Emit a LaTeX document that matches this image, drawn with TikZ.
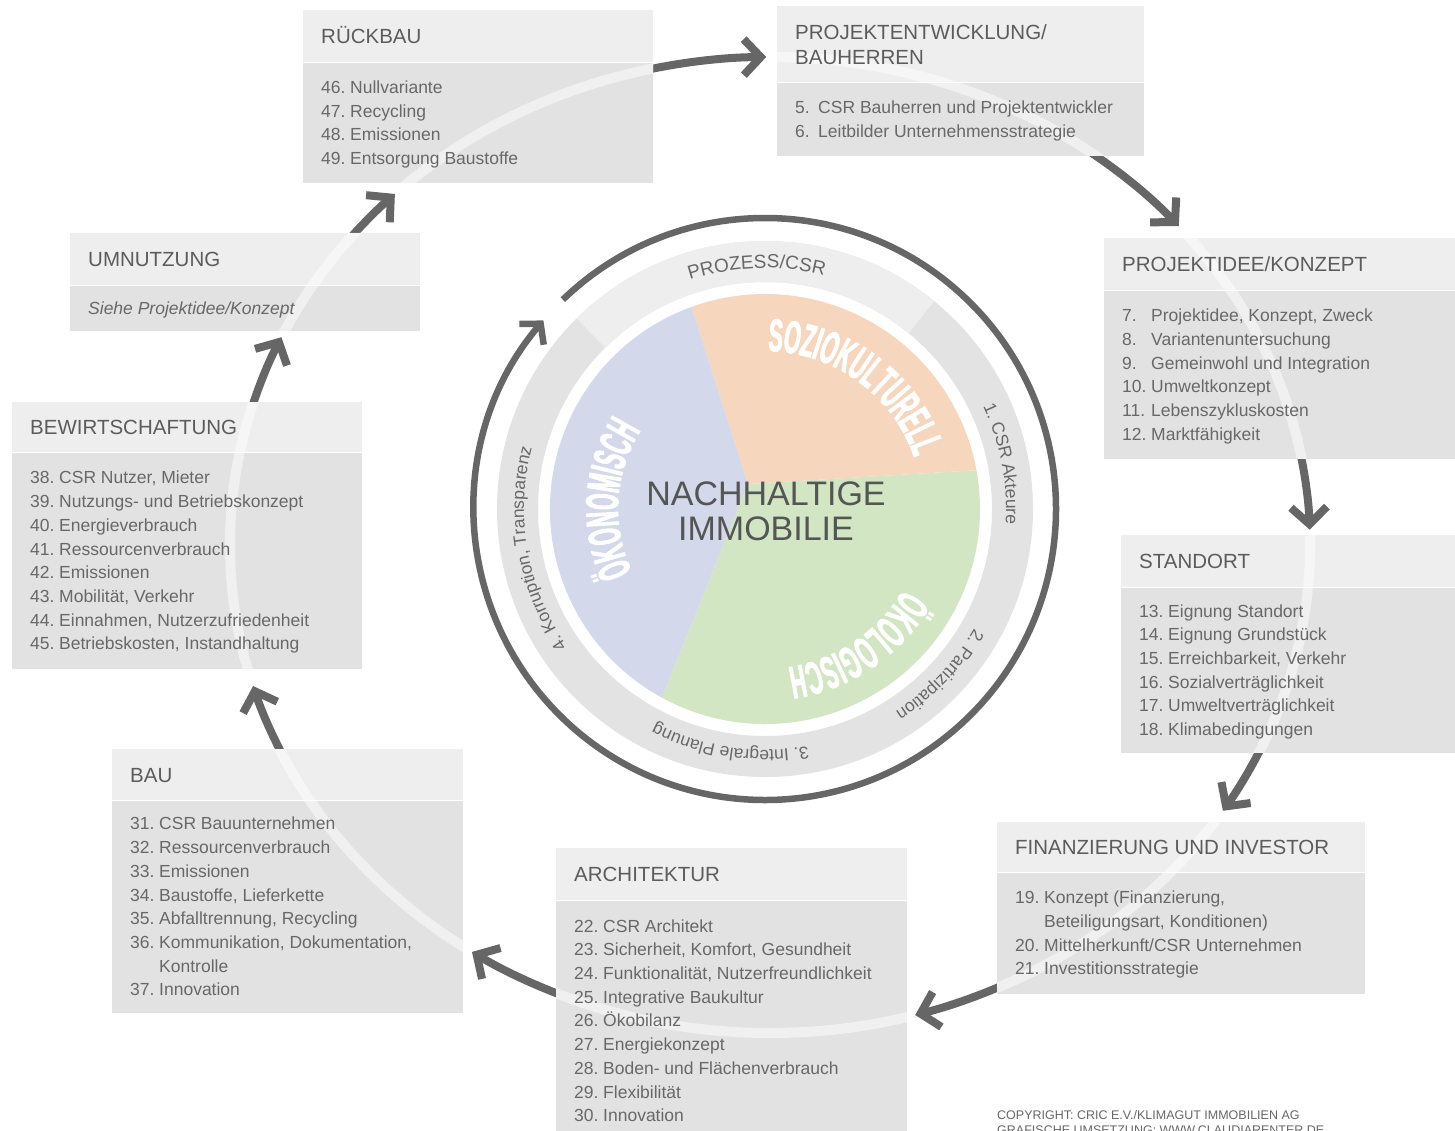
\documentclass[tikz,border=0pt]{standalone}
\usepackage{fontspec}
\setmainfont{Liberation Sans}
\newfontfamily\piefont{Liberation Sans Bold}[FakeStretch=0.46,FakeBold=2]
\usetikzlibrary{arrows.meta,calc,decorations.text}
\definecolor{hdrcol}{HTML}{EEEEEE}
\definecolor{bdycol}{HTML}{E2E2E2}
\definecolor{txtcol}{HTML}{686868}
\definecolor{headcol}{HTML}{5C5C5C}
\definecolor{arrcol}{HTML}{666666}
\definecolor{centcol}{HTML}{555555}
\definecolor{peach}{HTML}{F6D6BD}
\definecolor{lav}{HTML}{D3D8EA}
\definecolor{leaf}{HTML}{D2E6C3}
\definecolor{bandcol}{HTML}{E3E3E3}
\definecolor{bandtop}{HTML}{EEEEEE}
\newcommand\itm[3][29pt]{\makebox[#1][l]{#2}#3\rule[-5.4pt]{0pt}{23.4pt}}
\newcommand\hd[1]{#1\rule[-4.8pt]{0pt}{24.3pt}}
\newcommand\ctr[1]{#1\rule[-5.2pt]{0pt}{34.7pt}}
\newcommand\bandf{\fontsize{17.5}{20}\selectfont}
\newcommand\pief{\piefont\fontsize{46}{46}\selectfont}
\newcommand\mkbox[6]{%
  \node[hfill, minimum width=#4pt, minimum height=#5pt] (#1h) at (#2,-#3) {};
  \node[bfill, minimum width=#4pt, minimum height=#6pt] (#1b) at (#1h.south west) {};}
\tikzset{
  hfill/.style={rectangle, fill=hdrcol, inner sep=0pt, anchor=north west},
  bfill/.style={rectangle, fill=bdycol, inner sep=0pt, anchor=north west},
  htxt/.style={anchor=west, inner xsep=18pt, inner ysep=0pt, align=left, text=headcol, font=\fontsize{20.5}{25}\selectfont},
  btxt/.style={anchor=west, inner xsep=18pt, inner ysep=0pt, align=left, text=txtcol, font=\fontsize{17.5}{23.7}\selectfont},
  flow/.style={draw=arrcol, line width=8pt, -{Straight Barb[length=17pt,width=36pt]}},
  ringarrow/.style={draw=arrcol, line width=6.5pt, -{Straight Barb[length=14pt,width=32pt]}},
  lightring/.style={draw=white, draw opacity=0.5, line width=10pt},
  copytxt/.style={anchor=base west, inner sep=0pt, text=txtcol, font=\fontsize{12.5}{14}\selectfont}
}
\begin{document}
\begin{tikzpicture}[x=1pt,y=1pt]
\useasboundingbox (0,0) rectangle (1455,-1131);
\clip (0,0) rectangle (1455,-1131);
\fill[white] (0,0) rectangle (1455,-1131);

% ---------- big cycle arrows ----------
\coordinate (E) at (770,-545);
\draw[flow] ($(E)+(104:540 and 488)$) arc[start angle=104, end angle=90.4, x radius=540, y radius=488];
\draw[flow] ($(E)+(55:540 and 488)$) arc[start angle=55, end angle=40.8, x radius=540, y radius=488];
\draw[flow] ($(E)+(12:540 and 488)$) arc[start angle=12, end angle=1.8, x radius=540, y radius=488];
\draw[flow] ($(E)+(-23:540 and 488)$) arc[start angle=-23, end angle=-33, x radius=540, y radius=488];
\draw[flow] ($(E)+(-63:540 and 488)$) arc[start angle=-63, end angle=-74.4, x radius=540, y radius=488];
\draw[flow] ($(E)+(-111.5:540 and 488)$) arc[start angle=-111.5, end angle=-123.5, x radius=540, y radius=488];
\draw[flow] ($(E)+(-153.5:540 and 488)$) arc[start angle=-153.5, end angle=-163.2, x radius=540, y radius=488];
\draw[flow] ($(E)+(165:540 and 488)$) arc[start angle=165, end angle=154.8, x radius=540, y radius=488];
\draw[flow] ($(E)+(142:540 and 488)$) arc[start angle=142, end angle=134, x radius=540, y radius=488];

% ---------- central circle ----------
\coordinate (C) at (765,-509);
\coordinate (V) at (748,-484);
\fill[peach] (V) -- ($(C)+(10.4:215)$) arc[start angle=10.4, end angle=110, radius=215] -- cycle;
\fill[lav] (V) -- ($(C)+(110:215)$) arc[start angle=110, end angle=241.4, radius=215] -- cycle;
\fill[leaf] (V) -- ($(C)+(241.4:215)$) arc[start angle=241.4, end angle=370.4, radius=215] -- cycle;
\draw[bandcol, line width=41pt] (C) circle[radius=247.5];
\draw[bandtop, line width=41pt] ($(C)+(134.7:247.5)$) arc[start angle=134.7, end angle=50.8, radius=247.5];
\draw[ringarrow] ($(C)+(134:291)$) arc[start angle=134, end angle=-220.4, radius=291];

\path[decorate, decoration={text along path, text align=center, text color=txtcol, text={|\fontsize{19}{20}\selectfont|PROZESS/CSR}}]
  ($(C)+(137:241)$) arc[start angle=137, end angle=47, radius=241];
\path[decorate, decoration={text along path, text align=center, text color=txtcol, text={|\bandf|1. CSR Akteure}}]
  ($(C)+(55.8:241)$) arc[start angle=55.8, end angle=-34.2, radius=241];
\path[decorate, decoration={text along path, text align=center, text color=txtcol, text={|\bandf|2. Partizipation}}]
  ($(C)+(1.5:241)$) arc[start angle=1.5, end angle=-88.5, radius=241];
\path[decorate, decoration={text along path, text align=center, text color=txtcol, text={|\bandf|3. Integrale Planung}}]
  ($(C)+(-53.4:241)$) arc[start angle=-53.4, end angle=-143.4, radius=241];
\path[decorate, decoration={text along path, text align=center, text color=txtcol, text={|\bandf|4. Korruption, Transparenz}}]
  ($(C)+(235:241)$) arc[start angle=235, end angle=145, radius=241];

\path[decorate, decoration={text along path, text align=center, text color=white, text={|\pief|SOZIOKULTURELL}}]
  ($(C)+(99:158)$) arc[start angle=99, end angle=9, radius=158];
\path[decorate, decoration={text along path, text align=center, text color=white, text={|\pief|ÖKONOMISCH}}]
  ($(C)+(221.5:147)$) arc[start angle=221.5, end angle=131.5, radius=147];
\path[decorate, decoration={text along path, text align=center, text color=white, text={|\pief|ÖKOLOGISCH}}]
  ($(C)+(-11:160)$) arc[start angle=-11, end angle=-101, radius=160];

\node[font=\fontsize{34}{35}\selectfont, text=centcol, align=center, inner sep=0pt] (nh) at (766,-511) {\ctr{NACHHALTIGE}\\\ctr{IMMOBILIE}};

% ---------- boxes ----------
\mkbox{rueck}{303}{10}{350}{52}{120}
\mkbox{pentw}{777}{6}{367}{76}{73}
\mkbox{pidee}{1104}{238}{360}{52}{168}
\mkbox{umn}{70}{233}{350}{52}{45}
\mkbox{bew}{12}{402}{350}{50}{216}
\mkbox{stand}{1121}{535}{340}{52}{165}
\mkbox{fin}{997}{822}{368}{50}{121}
\mkbox{arch}{556}{848}{351}{52}{240}
\mkbox{bau}{112}{749}{351}{51}{212}

\begin{scope}
\clip (rueckh.north west) rectangle (rueckb.south east)
      (pentwh.north west) rectangle (pentwb.south east)
      (pideeh.north west) rectangle (pideeb.south east)
      (umnh.north west) rectangle (umnb.south east)
      (bewh.north west) rectangle (bewb.south east)
      (standh.north west) rectangle (standb.south east)
      (finh.north west) rectangle (finb.south east)
      (archh.north west) rectangle (archb.south east)
      (bauh.north west) rectangle (baub.south east);
\draw[lightring] (E) ellipse[x radius=540, y radius=488];
\end{scope}

\node[htxt] (ruecktt) at (rueckh.west) {\hd{RÜCKBAU}};
\node[btxt] (rueckit) at (rueckb.west) {\itm{46.}{Nullvariante}\\\itm{47.}{Recycling}\\\itm{48.}{Emissionen}\\\itm{49.}{Entsorgung Baustoffe}};

\node[htxt] (pentwtt) at (pentwh.west) {\hd{PROJEKTENTWICKLUNG/}\\\hd{BAUHERREN}};
\node[btxt] (pentwit) at (pentwb.west) {\itm[23pt]{5.}{CSR Bauherren und Projektentwickler}\\\itm[23pt]{6.}{Leitbilder Unternehmensstrategie}};

\node[htxt] (pideett) at (pideeh.west) {\hd{PROJEKTIDEE/KONZEPT}};
\node[btxt] (pideeit) at (pideeb.west) {\itm{7.}{Projektidee, Konzept, Zweck}\\\itm{8.}{Variantenuntersuchung}\\\itm{9.}{Gemeinwohl und Integration}\\\itm{10.}{Umweltkonzept}\\\itm{11.}{Lebenszykluskosten}\\\itm{12.}{Marktfähigkeit}};

\node[htxt] (umntt) at (umnh.west) {\hd{UMNUTZUNG}};
\node[btxt] (umnit) at (umnb.west) {\itshape Siehe Projektidee/Konzept\rule[-5.4pt]{0pt}{23.4pt}};

\node[htxt] (bewtt) at (bewh.west) {\hd{BEWIRTSCHAFTUNG}};
\node[btxt] (bewit) at (bewb.west) {\itm{38.}{CSR Nutzer, Mieter}\\\itm{39.}{Nutzungs- und Betriebskonzept}\\\itm{40.}{Energieverbrauch}\\\itm{41.}{Ressourcenverbrauch}\\\itm{42.}{Emissionen}\\\itm{43.}{Mobilität, Verkehr}\\\itm{44.}{Einnahmen, Nutzerzufriedenheit}\\\itm{45.}{Betriebskosten, Instandhaltung}};

\node[htxt] (standtt) at (standh.west) {\hd{STANDORT}};
\node[btxt] (standit) at (standb.west) {\itm{13.}{Eignung Standort}\\\itm{14.}{Eignung Grundstück}\\\itm{15.}{Erreichbarkeit, Verkehr}\\\itm{16.}{Sozialverträglichkeit}\\\itm{17.}{Umweltverträglichkeit}\\\itm{18.}{Klimabedingungen}};

\node[htxt] (fintt) at (finh.west) {\hd{FINANZIERUNG UND INVESTOR}};
\node[btxt] (finit) at (finb.west) {\itm{19.}{Konzept (Finanzierung,}\\\itm{}{Beteiligungsart, Konditionen)}\\\itm{20.}{Mittelherkunft/CSR Unternehmen}\\\itm{21.}{Investitionsstrategie}};

\node[htxt] (archtt) at (archh.west) {\hd{ARCHITEKTUR}};
\node[btxt] (archit) at (archb.west) {\itm{22.}{CSR Architekt}\\\itm{23.}{Sicherheit, Komfort, Gesundheit}\\\itm{24.}{Funktionalität, Nutzerfreundlichkeit}\\\itm{25.}{Integrative Baukultur}\\\itm{26.}{Ökobilanz}\\\itm{27.}{Energiekonzept}\\\itm{28.}{Boden- und Flächenverbrauch}\\\itm{29.}{Flexibilität}\\\itm{30.}{Innovation}};

\node[htxt] (bautt) at (bauh.west) {\hd{BAU}};
\node[btxt] (bauit) at (baub.west) {\itm{31.}{CSR Bauunternehmen}\\\itm{32.}{Ressourcenverbrauch}\\\itm{33.}{Emissionen}\\\itm{34.}{Baustoffe, Lieferkette}\\\itm{35.}{Abfalltrennung, Recycling}\\\itm{36.}{Kommunikation, Dokumentation,}\\\itm{}{Kontrolle}\\\itm{37.}{Innovation}};

\node[copytxt] (copy1) at (997,-1119) {COPYRIGHT: CRIC E.V./KLIMAGUT IMMOBILIEN AG};
\node[copytxt] (copy2) at (997,-1134) {GRAFISCHE UMSETZUNG: WWW.CLAUDIARENTER.DE};
\end{tikzpicture}
\end{document}
